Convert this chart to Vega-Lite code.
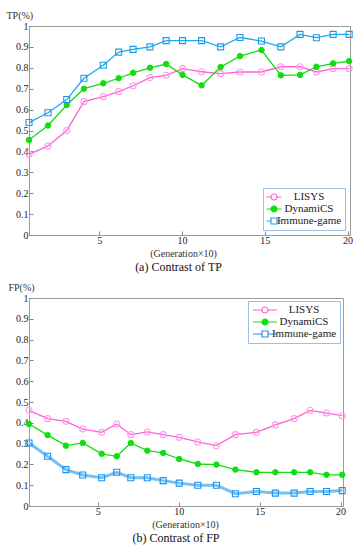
{
  "$schema": "https://vega.github.io/schema/vega-lite/v6.json",
  "background": "white",
  "padding": {"left": 5, "top": 9, "right": 2, "bottom": 2},
  "spacing": 7,
  "config": {
    "font": "Liberation Serif",
    "view": {"stroke": "#9a9a9a", "strokeWidth": 1},
    "axis": {
      "grid": false, "domain": false, "tickColor": "#8a8a8a", "tickSize": -4,
      "labelFont": "Liberation Serif", "labelFontSize": 10, "labelColor": "#222",
      "titleFont": "Liberation Serif", "titleFontSize": 10, "titleFontWeight": "normal", "titleColor": "#333"
    },
    "title": {"font": "Liberation Serif", "fontSize": 12, "fontWeight": "normal", "color": "#111", "orient": "bottom", "anchor": "middle"}
  },
  "datasets": {
    "tp": [
      {"g":0.75,"s":"LISYS","v":0.386},{"g":1.9,"s":"LISYS","v":0.426},{"g":3.03,"s":"LISYS","v":0.5},{"g":4.07,"s":"LISYS","v":0.638},{"g":5.24,"s":"LISYS","v":0.662},{"g":6.17,"s":"LISYS","v":0.686},{"g":7.04,"s":"LISYS","v":0.714},{"g":8.06,"s":"LISYS","v":0.753},{"g":9.04,"s":"LISYS","v":0.764},{"g":10.03,"s":"LISYS","v":0.796},{"g":11.18,"s":"LISYS","v":0.781},{"g":12.33,"s":"LISYS","v":0.772},{"g":13.5,"s":"LISYS","v":0.78},{"g":14.8,"s":"LISYS","v":0.78},{"g":15.97,"s":"LISYS","v":0.805},{"g":17.13,"s":"LISYS","v":0.805},{"g":18.12,"s":"LISYS","v":0.78},{"g":19.13,"s":"LISYS","v":0.796},{"g":20.1,"s":"LISYS","v":0.796},
      {"g":0.75,"s":"DynamiCS","v":0.455},{"g":1.9,"s":"DynamiCS","v":0.524},{"g":3.03,"s":"DynamiCS","v":0.622},{"g":4.07,"s":"DynamiCS","v":0.7},{"g":5.24,"s":"DynamiCS","v":0.726},{"g":6.17,"s":"DynamiCS","v":0.75},{"g":7.04,"s":"DynamiCS","v":0.776},{"g":8.06,"s":"DynamiCS","v":0.8},{"g":9.04,"s":"DynamiCS","v":0.818},{"g":10.03,"s":"DynamiCS","v":0.766},{"g":11.18,"s":"DynamiCS","v":0.716},{"g":12.33,"s":"DynamiCS","v":0.804},{"g":13.5,"s":"DynamiCS","v":0.856},{"g":14.8,"s":"DynamiCS","v":0.885},{"g":15.97,"s":"DynamiCS","v":0.764},{"g":17.13,"s":"DynamiCS","v":0.766},{"g":18.12,"s":"DynamiCS","v":0.805},{"g":19.13,"s":"DynamiCS","v":0.821},{"g":20.1,"s":"DynamiCS","v":0.832},
      {"g":0.75,"s":"Immune-game","v":0.538},{"g":1.9,"s":"Immune-game","v":0.585},{"g":3.03,"s":"Immune-game","v":0.648},{"g":4.07,"s":"Immune-game","v":0.75},{"g":5.24,"s":"Immune-game","v":0.812},{"g":6.17,"s":"Immune-game","v":0.875},{"g":7.04,"s":"Immune-game","v":0.888},{"g":8.06,"s":"Immune-game","v":0.9},{"g":9.04,"s":"Immune-game","v":0.93},{"g":10.03,"s":"Immune-game","v":0.93},{"g":11.18,"s":"Immune-game","v":0.93},{"g":12.33,"s":"Immune-game","v":0.9},{"g":13.5,"s":"Immune-game","v":0.945},{"g":14.8,"s":"Immune-game","v":0.928},{"g":15.97,"s":"Immune-game","v":0.9},{"g":17.13,"s":"Immune-game","v":0.96},{"g":18.12,"s":"Immune-game","v":0.944},{"g":19.13,"s":"Immune-game","v":0.96},{"g":20.1,"s":"Immune-game","v":0.96}
    ],
    "fp": [
      {"g":0.75,"s":"LISYS","v":0.46},{"g":1.9,"s":"LISYS","v":0.42},{"g":3.03,"s":"LISYS","v":0.407},{"g":4.07,"s":"LISYS","v":0.37},{"g":5.24,"s":"LISYS","v":0.354},{"g":6.17,"s":"LISYS","v":0.394},{"g":7.04,"s":"LISYS","v":0.343},{"g":8.06,"s":"LISYS","v":0.356},{"g":9.04,"s":"LISYS","v":0.343},{"g":10.03,"s":"LISYS","v":0.33},{"g":11.18,"s":"LISYS","v":0.308},{"g":12.33,"s":"LISYS","v":0.29},{"g":13.5,"s":"LISYS","v":0.343},{"g":14.8,"s":"LISYS","v":0.354},{"g":15.97,"s":"LISYS","v":0.39},{"g":17.13,"s":"LISYS","v":0.42},{"g":18.12,"s":"LISYS","v":0.46},{"g":19.13,"s":"LISYS","v":0.447},{"g":20.1,"s":"LISYS","v":0.434},
      {"g":0.75,"s":"DynamiCS","v":0.394},{"g":1.9,"s":"DynamiCS","v":0.341},{"g":3.03,"s":"DynamiCS","v":0.29},{"g":4.07,"s":"DynamiCS","v":0.303},{"g":5.24,"s":"DynamiCS","v":0.251},{"g":6.17,"s":"DynamiCS","v":0.239},{"g":7.04,"s":"DynamiCS","v":0.303},{"g":8.06,"s":"DynamiCS","v":0.266},{"g":9.04,"s":"DynamiCS","v":0.255},{"g":10.03,"s":"DynamiCS","v":0.226},{"g":11.18,"s":"DynamiCS","v":0.202},{"g":12.33,"s":"DynamiCS","v":0.199},{"g":13.5,"s":"DynamiCS","v":0.175},{"g":14.8,"s":"DynamiCS","v":0.162},{"g":15.97,"s":"DynamiCS","v":0.162},{"g":17.13,"s":"DynamiCS","v":0.162},{"g":18.12,"s":"DynamiCS","v":0.162},{"g":19.13,"s":"DynamiCS","v":0.15},{"g":20.1,"s":"DynamiCS","v":0.15},
      {"g":0.75,"s":"Immune-game","v":0.303},{"g":1.9,"s":"Immune-game","v":0.239},{"g":3.03,"s":"Immune-game","v":0.175},{"g":4.07,"s":"Immune-game","v":0.149},{"g":5.24,"s":"Immune-game","v":0.136},{"g":6.17,"s":"Immune-game","v":0.162},{"g":7.04,"s":"Immune-game","v":0.136},{"g":8.06,"s":"Immune-game","v":0.136},{"g":9.04,"s":"Immune-game","v":0.122},{"g":10.03,"s":"Immune-game","v":0.11},{"g":11.18,"s":"Immune-game","v":0.1},{"g":12.33,"s":"Immune-game","v":0.1},{"g":13.5,"s":"Immune-game","v":0.059},{"g":14.8,"s":"Immune-game","v":0.07},{"g":15.97,"s":"Immune-game","v":0.062},{"g":17.13,"s":"Immune-game","v":0.062},{"g":18.12,"s":"Immune-game","v":0.07},{"g":19.13,"s":"Immune-game","v":0.07},{"g":20.1,"s":"Immune-game","v":0.074}
    ]
  },
  "resolve": {"scale": {"color": "independent"}, "legend": {"color": "independent"}},
  "vconcat": [
    {
      "width": 321, "height": 209,
      "data": {"name": "tp"},
      "title": {"text": "(a) Contrast of TP", "offset": 4, "dx": -11},
      "encoding": {
        "x": {"field": "g", "type": "quantitative", "scale": {"domain": [0.75, 20.15], "nice": false, "zero": false},
              "axis": {"values": [5, 10, 15, 20], "title": "(Generation×10)", "labelPadding": 4, "titlePadding": 3, "titleX": 154}},
        "y": {"field": "v", "type": "quantitative", "scale": {"domain": [0, 1], "nice": false},
              "axis": {"values": [0, 0.1, 0.2, 0.3, 0.4, 0.5, 0.6, 0.7, 0.8, 0.9, 1], "format": "~g", "labelPadding": 5,
                       "title": "TP(%)", "titleAngle": 0, "titleAlign": "left", "titleBaseline": "middle", "titleX": -23, "titleY": -11}}
      },
      "layer": [
        {
          "mark": {"type": "line", "strokeWidth": 1.3},
          "encoding": {
            "color": {"field": "s", "type": "nominal",
              "scale": {"domain": ["LISYS", "DynamiCS", "Immune-game"], "range": ["#ff5fd8", "#12dd12", "#18aaf0"]},
              "legend": {
                "title": null, "orient": "bottom-right", "offset": 5,
                "strokeColor": "#9cbfe6", "fillColor": "white", "padding": 3, "rowPadding": 0,
                "labelFont": "Liberation Serif", "labelFontSize": 11, "labelColor": "#222", "labelAlign": "center", "labelOffset": 29,
                "symbolSize": 100, "symbolOffset": 2, "symbolStrokeWidth": 1.2,
                "encode": {"symbols": {"update": {
                  "shape": {"signal": "datum.value === 'Immune-game' ? 'M-1.5,0L-0.6,0M0.6,0L1.5,0M-0.6,-0.6L0.6,-0.6L0.6,0.6L-0.6,0.6Z' : 'M-1.5,0L-0.6,0M0.6,0L1.5,0M-0.6,0A0.6,0.6,0,1,1,0.6,0A0.6,0.6,0,1,1,-0.6,0Z'"},
                  "fill": {"signal": "datum.value === 'DynamiCS' ? '#12dd12' : 'white'"}
                }}}
              }
            }
          }
        },
        {
          "transform": [{"filter": "datum.s === 'LISYS'"}],
          "mark": {"type": "point", "shape": "circle", "size": 36, "strokeWidth": 1.1, "opacity": 1, "stroke": "#ff9be6", "fill": "transparent"},
          "encoding": {}
        },
        {
          "transform": [{"filter": "datum.s === 'DynamiCS'"}],
          "mark": {"type": "point", "shape": "circle", "size": 30, "strokeWidth": 1, "opacity": 1, "stroke": "#12dd12", "fill": "#12dd12"},
          "encoding": {}
        },
        {
          "transform": [{"filter": "datum.s === 'Immune-game'"}],
          "mark": {"type": "point", "shape": "square", "size": 36, "strokeWidth": 1.1, "opacity": 1, "stroke": "#1a9be8", "fill": "transparent"},
          "encoding": {}
        }
      ]
    },
    {
      "width": 314, "height": 208,
      "data": {"name": "fp"},
      "title": {"text": "(b) Contrast of FP", "offset": 4, "dx": -10},
      "encoding": {
        "x": {"field": "g", "type": "quantitative", "scale": {"domain": [0.75, 20.15], "nice": false, "zero": false},
              "axis": {"values": [5, 10, 15, 20], "title": "(Generation×10)", "labelPadding": 4, "titlePadding": 3, "titleX": 156}},
        "y": {"field": "v", "type": "quantitative", "scale": {"domain": [0, 1], "nice": false},
              "axis": {"values": [0, 0.1, 0.2, 0.3, 0.4, 0.5, 0.6, 0.7, 0.8, 0.9, 1], "format": "~g", "labelPadding": 5,
                       "title": "FP(%)", "titleAngle": 0, "titleAlign": "left", "titleBaseline": "middle", "titleX": -21, "titleY": -11}}
      },
      "layer": [
        {
          "mark": {"type": "line", "strokeWidth": 1.3},
          "encoding": {
            "color": {"field": "s", "type": "nominal",
              "scale": {"domain": ["LISYS", "DynamiCS", "Immune-game"], "range": ["#ff5fd8", "#12dd12", "#1e8fe8"]},
              "legend": {
                "title": null, "orient": "top-right", "offset": 3,
                "strokeColor": "#9cbfe6", "fillColor": "white", "padding": 3, "rowPadding": 0,
                "labelFont": "Liberation Serif", "labelFontSize": 11, "labelColor": "#222", "labelAlign": "center", "labelOffset": 33,
                "symbolSize": 100, "symbolOffset": 8, "symbolStrokeWidth": 1.2,
                "encode": {"symbols": {"update": {
                  "shape": {"signal": "datum.value === 'Immune-game' ? 'M-2.4,0L-0.6,0M0.6,0L2.4,0M-0.6,-0.6L0.6,-0.6L0.6,0.6L-0.6,0.6Z' : 'M-2.4,0L-0.6,0M0.6,0L2.4,0M-0.6,0A0.6,0.6,0,1,1,0.6,0A0.6,0.6,0,1,1,-0.6,0Z'"},
                  "fill": {"signal": "datum.value === 'DynamiCS' ? '#12dd12' : 'white'"}
                }}}
              }
            }
          }
        },
        {
          "transform": [{"filter": "datum.s === 'Immune-game'"}],
          "mark": {"type": "line", "strokeWidth": 3, "color": "#72c2f2"},
          "encoding": {}
        },
        {
          "transform": [{"filter": "datum.s === 'LISYS'"}],
          "mark": {"type": "point", "shape": "circle", "size": 36, "strokeWidth": 1.1, "opacity": 1, "stroke": "#ff9be6", "fill": "transparent"},
          "encoding": {}
        },
        {
          "transform": [{"filter": "datum.s === 'DynamiCS'"}],
          "mark": {"type": "point", "shape": "circle", "size": 30, "strokeWidth": 1, "opacity": 1, "stroke": "#12dd12", "fill": "#12dd12"},
          "encoding": {}
        },
        {
          "transform": [{"filter": "datum.s === 'Immune-game'"}],
          "mark": {"type": "point", "shape": "square", "size": 36, "strokeWidth": 1.1, "opacity": 1, "stroke": "#1a90f0", "fill": "transparent"},
          "encoding": {}
        }
      ]
    }
  ]
}
